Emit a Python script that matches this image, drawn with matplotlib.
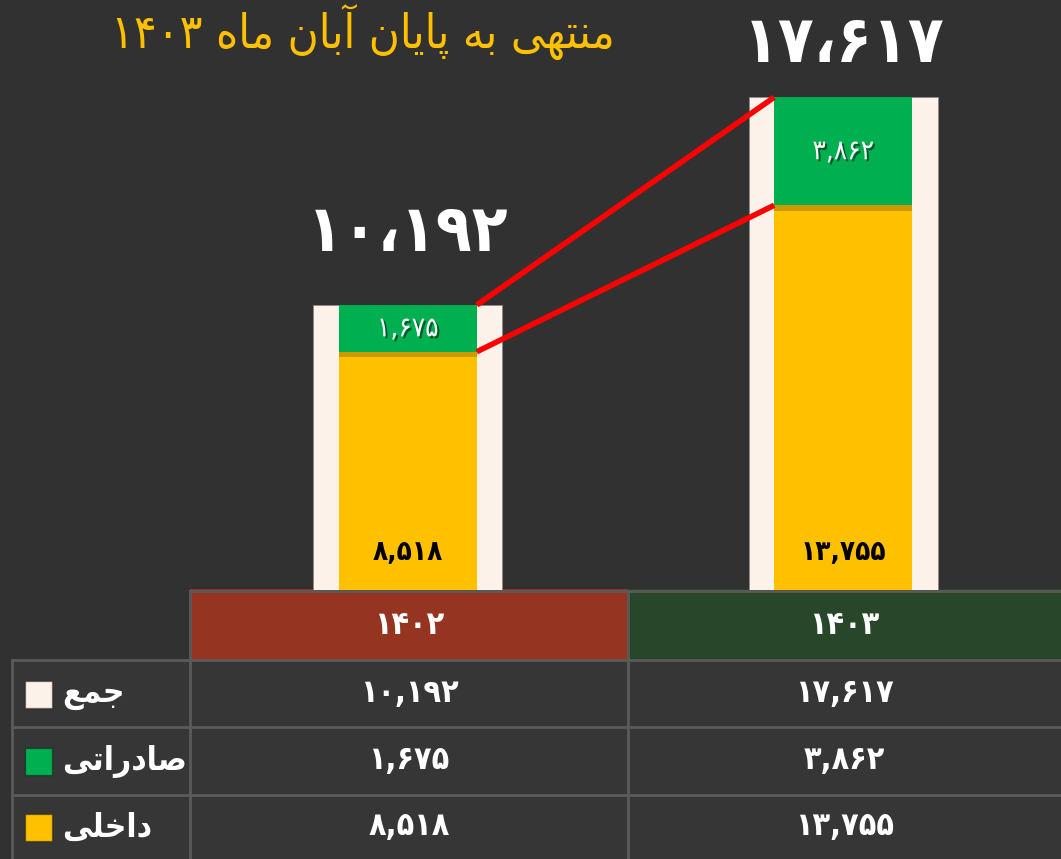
# plot.py
import re
import matplotlib
matplotlib.use('Agg')
import matplotlib.pyplot as plt
from matplotlib.patches import Rectangle
import matplotlib.patheffects as pe

# Datos
anios = [1402, 1403]
dakheli = [8518, 13755]      # داخلی
saderati = [1675, 3862]      # صادراتی
jam = [10192, 17617]         # جمع
titulo = 'منتهی به پایان آبان ماه ۱۴۰۳'
filas = ['جمع', 'صادراتی', 'داخلی']

# Colores
fondo = '#313131'
crema = '#FDF2E9'
verde = '#00B050'
amarillo = '#FFC000'
rojo = '#FF0000'
celda = '#363636'
linea_tabla = '#5A5A5A'
cab_colores = ['#953420', '#28472A']

# formas de presentación: aislada, final, inicial, medial
FORMAS = {
    'ا': ('\uFE8D', '\uFE8E', None, None),
    'آ': ('\uFE81', '\uFE82', None, None),
    'ب': ('\uFE8F', '\uFE90', '\uFE91', '\uFE92'),
    'پ': ('\uFB56', '\uFB57', '\uFB58', '\uFB59'),
    'ت': ('\uFE95', '\uFE96', '\uFE97', '\uFE98'),
    'ج': ('\uFE9D', '\uFE9E', '\uFE9F', '\uFEA0'),
    'خ': ('\uFEA5', '\uFEA6', '\uFEA7', '\uFEA8'),
    'د': ('\uFEA9', '\uFEAA', None, None),
    'ر': ('\uFEAD', '\uFEAE', None, None),
    'ص': ('\uFEB9', '\uFEBA', '\uFEBB', '\uFEBC'),
    'ع': ('\uFEC9', '\uFECA', '\uFECB', '\uFECC'),
    'ل': ('\uFEDD', '\uFEDE', '\uFEDF', '\uFEE0'),
    'م': ('\uFEE1', '\uFEE2', '\uFEE3', '\uFEE4'),
    'ن': ('\uFEE5', '\uFEE6', '\uFEE7', '\uFEE8'),
    'ه': ('\uFEE9', '\uFEEA', '\uFEEB', '\uFEEC'),
    'ی': ('\uFBFC', '\uFBFD', '\uFBFE', '\uFBFF'),
}
DIGITOS = '۰۱۲۳۴۵۶۷۸۹'


def fa(texto):
    # une las letras y las pone en orden visual (de izquierda a derecha)
    salida = []
    for i, ch in enumerate(texto):
        if ch not in FORMAS:
            salida.append(ch)
            continue
        ant = texto[i - 1] if i > 0 else ''
        sig = texto[i + 1] if i + 1 < len(texto) else ''
        une_ant = ant in FORMAS and FORMAS[ant][2] is not None
        une_sig = FORMAS[ch][2] is not None and sig in FORMAS
        ais, fin, ini, med = FORMAS[ch]
        if une_ant and une_sig:
            salida.append(med)
        elif une_ant:
            salida.append(fin)
        elif une_sig:
            salida.append(ini)
        else:
            salida.append(ais)
    trozos = re.findall(r'[۰-۹,،]+|[^۰-۹,،]+', ''.join(salida))
    return ''.join(t if t[0] in DIGITOS else t[::-1] for t in reversed(trozos))


def num(n, sep=','):
    s = f'{n:,}'.replace(',', sep)
    return ''.join(DIGITOS[int(c)] if c.isdigit() else c for c in s)


plt.rcParams['font.family'] = ['DejaVu Sans']
plt.rcParams['font.stretch'] = 'condensed'
fig = plt.figure(figsize=(10.61, 8.59), dpi=100, facecolor=fondo)

# Tabla (coordenadas en pixeles)
tab = fig.add_axes([0, 0, 1, 1])
tab.set_xlim(0, 1061)
tab.set_ylim(859, 0)
tab.axis('off')
tab.set_facecolor('none')

col_x = [190, 628, 1061]
fila_y = [660, 727, 795, 859]
for j in range(2):
    tab.add_patch(Rectangle((col_x[j], 589), col_x[j + 1] - col_x[j], 71,
                            facecolor=cab_colores[j], edgecolor='none'))
    tab.text((col_x[j] + col_x[j + 1]) / 2, 626, num(anios[j], ''), color='white',
             fontsize=23, fontweight='bold', ha='center', va='center')
tab.add_patch(Rectangle((12, 660), 1061 - 12, 199, facecolor=celda, edgecolor='none'))

valores = [jam, saderati, dakheli]
muestras = [crema, verde, amarillo]
for i in range(3):
    yc = (fila_y[i] + fila_y[i + 1]) / 2
    tab.add_patch(Rectangle((25, yc - 13), 27, 27, facecolor=muestras[i],
                            edgecolor='#00000055', lw=1))
    tab.text(62, yc, fa(filas[i]), color='white', fontsize=24, fontweight='bold',
             ha='left', va='center')
    for j in range(2):
        tab.text((col_x[j] + col_x[j + 1]) / 2, yc, num(valores[i][j]), color='white',
                 fontsize=23, fontweight='bold', ha='center', va='center')

for y in fila_y[:3]:
    tab.plot([12, 1061], [y, y], color=linea_tabla, lw=2)
tab.plot([190, 1061], [591, 591], color=linea_tabla, lw=2)
tab.plot([12, 12], [660, 859], color=linea_tabla, lw=2)
tab.plot([190, 190], [591, 859], color=linea_tabla, lw=2)
tab.plot([628, 628], [591, 859], color=linea_tabla, lw=2)

# Titulo
tab.text(615, 32, fa(titulo), color=amarillo, fontsize=34, ha='right', va='center')

# Barras
ax = fig.add_axes([190 / 1061, 269 / 859, 871 / 1061, 590 / 859])
ax.set_facecolor('none')
ax.set_xlim(-0.5, 1.5)
ax.set_ylim(0, 21094)
ax.axis('off')

x = [0, 1]
ancho_ext = 0.434
ancho_int = 0.317
ax.bar(x, jam, width=ancho_ext, color=crema, edgecolor='#8a8a8a', lw=0.6, zorder=1)
ax.bar(x, dakheli, width=ancho_int, color=amarillo, zorder=2)
ax.bar(x, saderati, bottom=dakheli, width=ancho_int, color=verde, zorder=3,
       path_effects=[pe.withSimplePatchShadow(offset=(0, -4), shadow_rgbFace='black', alpha=0.2)])

# lineas rojas
ax.plot([x[0] + ancho_int / 2, x[1] - ancho_int / 2], [jam[0], jam[1]], color=rojo, lw=4,
        solid_capstyle='butt', zorder=4)
ax.plot([x[0] + ancho_int / 2, x[1] - ancho_int / 2], [dakheli[0], dakheli[1]], color=rojo,
        lw=4, solid_capstyle='butt', zorder=4)

sombra = [pe.withSimplePatchShadow(offset=(1.5, -1.5), shadow_rgbFace='black', alpha=0.5)]
offsets = [52, 38]
for i in range(2):
    ax.annotate(num(jam[i], '،'), (x[i], jam[i]), xytext=(0, offsets[i]),
                textcoords='offset points', ha='center', va='center', color='white',
                fontsize=47, fontweight='bold')
    ax.text(x[i], dakheli[i] + saderati[i] / 2, num(saderati[i]), color='white',
            fontsize=20, ha='center', va='center', zorder=5, path_effects=sombra)
    ax.text(x[i], 1360, num(dakheli[i]), color='black', fontsize=20, fontweight='bold',
            ha='center', va='center', zorder=5)

fig.savefig('out.png', dpi=100, facecolor=fondo)
